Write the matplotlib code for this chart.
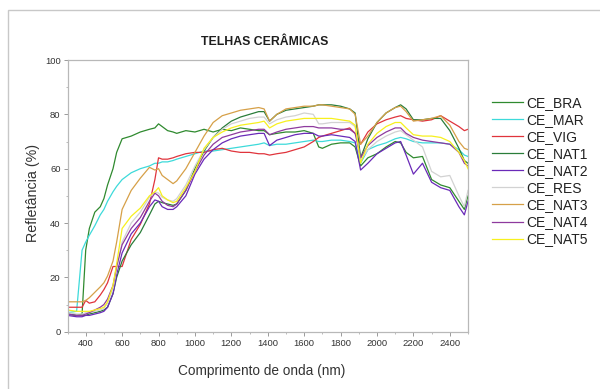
import matplotlib
matplotlib.use("Agg")
import matplotlib.pyplot as plt
from matplotlib import font_manager
from matplotlib.patches import Rectangle
from matplotlib.ticker import MultipleLocator

# Wavelength grid (nm) shared by all spectra
wavelength = [300, 350, 380, 400, 420, 450, 480, 500, 520, 550, 570, 600, 650, 700,
              750, 780, 800, 820, 850, 880, 900, 950, 1000, 1050, 1100, 1150, 1200,
              1250, 1300, 1350, 1380, 1410, 1450, 1500, 1550, 1600, 1650, 1680, 1700,
              1750, 1800, 1850, 1880, 1910, 1950, 2000, 2050, 2100, 2130, 2160, 2200,
              2250, 2300, 2350, 2400, 2450, 2480, 2500]

# Reflectance (%) of each ceramic tile sample
ce_bra = [6.5, 6, 6.5, 30, 38, 44, 46, 49, 54, 60, 66, 71, 72, 73.5,
          74.5, 75, 76.5, 75.5, 74, 73.5, 73, 74, 73.5, 74.5, 73.5, 74.5, 74,
          75, 74.5, 74, 74, 72.5, 73, 73.5, 73.5, 74, 73, 68, 67.5,
          69, 69.5, 69.5, 68, 61, 64, 65.5, 68, 70, 69.5, 66, 64,
          64.5, 56, 54, 53, 48, 45, 50]
ce_mar = [7, 7.5, 30, 33, 35.5, 39, 43, 45, 48, 51.5, 53.5, 56, 58.5, 60,
          61, 62, 62, 62.5, 62.5, 63, 63.5, 64.5, 65.5, 66.5, 66.5, 67, 67.5,
          68, 68.5, 69, 69.5, 68.5, 69, 69, 69.5, 70, 70.5, 70, 70,
          70.5, 70.5, 70, 69.5, 62, 67, 68.5, 69.5, 71, 71.5, 71, 70,
          69.5, 69.5, 69.5, 69, 67, 65, 64.5]
ce_vig = [9, 9, 9, 11.5, 10.5, 11, 13.5, 15.5, 18, 24, 24, 24, 34, 39.5,
          47, 56, 64, 63.5, 63.5, 64, 64.5, 65.5, 66, 66, 67, 67.5, 66.5,
          66, 66, 65.5, 65.5, 65, 65.5, 66, 67, 68, 70, 71.5, 72,
          73, 74, 75, 73, 69, 73.5, 76.5, 78, 79, 79.5, 78.5, 78,
          77.5, 78, 79.5, 77.5, 75.5, 74, 74.5]
ce_nat1 = [6.5, 6, 6, 6, 6.5, 7, 7.5, 8, 9, 14, 20, 26, 32, 36.5,
           43, 47, 48, 47.5, 47, 46.5, 47, 52, 60, 66.5, 71.5, 75, 77.5,
           79, 80, 81, 81, 77.5, 80, 81.5, 82, 82.5, 83, 83.5, 83.5,
           83.5, 83, 82, 80.5, 64, 71, 77, 80.5, 82.5, 83.5, 82, 78,
           78, 78.5, 78.5, 74, 67.5, 63, 62]
ce_nat2 = [6, 5.5, 5.5, 6, 6, 6.5, 7, 7.5, 9, 14, 21, 29, 36, 40,
           46, 48.5, 48, 46, 45, 45, 46, 50, 58, 63.5, 67, 69.5, 71,
           72, 72.5, 73, 73, 68.5, 70.5, 71.5, 72.5, 73, 73, 72, 72,
           72.5, 72, 71.5, 70, 59.5, 62, 65.5, 67.5, 69.5, 70, 65, 58,
           62, 55, 53, 52, 46, 43, 48]
ce_res = [7, 6.5, 6.5, 7, 7, 7.5, 8, 8.5, 10.5, 16, 23, 33, 40, 44,
          49.5, 51.5, 51, 49.5, 48.5, 48, 49, 54, 61, 67, 71.5, 74.5, 76.5,
          77.5, 78.5, 79, 79, 76.5, 78, 79, 79.5, 80.5, 80, 76.5, 76.5,
          77, 77, 77, 75.5, 63, 67, 70, 72, 73.5, 74, 72.5, 70.5,
          68, 59, 57, 57.5, 50, 46, 52]
ce_nat3 = [11, 11, 11, 11.5, 12.5, 14.5, 16.5, 18, 20.5, 26, 33, 45, 52, 56.5,
           60.5, 59.5, 60, 57.5, 56, 54.5, 55.5, 60, 66, 72, 77, 79.5, 80.5,
           81.5, 82, 82.5, 82, 77.5, 80, 82, 82.5, 83, 83, 83.5, 83.5,
           83, 82.5, 82, 80, 69, 72, 77, 80.5, 82.5, 83, 81, 77.5,
           78, 78.5, 79.5, 76, 70, 67.5, 67]
ce_nat4 = [6.5, 6, 6, 6.5, 7, 8, 9, 10, 12, 17, 24, 32, 38, 42,
           48, 51, 50, 48, 46.5, 46, 47, 52, 59, 65, 69, 71.5, 72.5,
           73.5, 74, 74.5, 74.5, 72.5, 73.5, 74.5, 75, 75.5, 75.5, 75, 75,
           75, 74.5, 74.5, 73, 64, 68.5, 71.5, 73.5, 75, 75, 73, 71.5,
           70.5, 70, 69.5, 69, 66, 62, 61]
ce_nat5 = [8, 7.5, 7.5, 7.5, 7.5, 8, 8.5, 9, 11, 17, 25, 38, 42.5, 45.5,
           50, 51.5, 53, 50, 48.5, 47.5, 48, 53, 59, 67.5, 71.5, 73.5, 75,
           76, 76.5, 77, 77.5, 75, 76.5, 77.5, 78, 78.5, 78.5, 78.5, 78.5,
           78.5, 78, 77.5, 76, 62, 69, 73, 75.5, 77, 77, 75, 72.5,
           72, 72, 71.5, 70, 66, 63, 60]

series_names = ["CE_BRA", "CE_MAR", "CE_VIG", "CE_NAT1", "CE_NAT2",
                "CE_RES", "CE_NAT3", "CE_NAT4", "CE_NAT5"]
series_values = [ce_bra, ce_mar, ce_vig, ce_nat1, ce_nat2,
                 ce_res, ce_nat3, ce_nat4, ce_nat5]
series_colors = ["#2f8a2f", "#3ddada", "#e0343c", "#2a7d3a", "#6a2ab8",
                 "#d2d2d2", "#d6a048", "#8e3a9e", "#f7f01e"]

xticks = [400, 600, 800, 1000, 1200, 1400, 1600, 1800, 2000, 2200, 2400]
yticks = [0, 20, 40, 60, 80, 100]

installed = {f.name for f in font_manager.fontManager.ttflist}
base_font = "Liberation Sans" if "Liberation Sans" in installed else "DejaVu Sans"
narrow_font = "Liberation Sans Narrow" if "Liberation Sans Narrow" in installed else base_font
plt.rcParams["font.family"] = [base_font, "DejaVu Sans"]

W, H = 600, 389
fig = plt.figure(figsize=(W / 100, H / 100), dpi=100)
fig.patch.set_facecolor("white")

# light frame around the panel
fig.add_artist(Rectangle((8 / W, -0.1), 1.2, 1 - 10 / H + 0.1, transform=fig.transFigure,
                         fill=False, edgecolor="#c8c8c8", linewidth=1.0))

ax = fig.add_axes([67.5 / W, 1 - 331.7 / H, (468 - 67.5) / W, (331.7 - 60) / H])

lines = []
for name, vals, col in zip(series_names, series_values, series_colors):
    ln, = ax.plot(wavelength, vals, color=col, linewidth=0.9, label=name)
    lines.append(ln)

ax.set_xlim(300, 2500)
ax.set_ylim(0, 100)
ax.set_xticks(xticks)
ax.set_yticks(yticks)
ax.xaxis.set_minor_locator(MultipleLocator(100))
ax.yaxis.set_minor_locator(MultipleLocator(10))
ax.tick_params(which="major", direction="out", length=3, width=0.7, color="#9a9a9a",
               labelsize=6.8, labelcolor="#333333", pad=2)
ax.tick_params(which="minor", direction="out", length=1.5, width=0.6, color="#b0b0b0")
for sp in ax.spines.values():
    sp.set_color("#b8b8b8")
    sp.set_linewidth(0.9)

fig.text(265 / W, 1 - 42 / H, "TELHAS CERÂMICAS", ha="center", va="center",
         fontsize=9.5 if narrow_font != base_font else 8.8, fontweight="bold",
         family=[narrow_font, "DejaVu Sans"], color="#1e1e1e")
fig.text(262 / W, 1 - 371 / H, "Comprimento de onda (nm)", ha="center", va="center",
         fontsize=9.8, color="#333333")
fig.text(33 / W, 1 - 193 / H, "Refletância (%)", ha="center", va="center",
         rotation=90, fontsize=10.3, color="#333333")

fig.legend(handles=lines, loc="upper left", bbox_to_anchor=(492 / W, 1 - 96 / H),
           frameon=False, fontsize=10, handlelength=2.2, handletextpad=0.3,
           labelspacing=0.22, borderaxespad=0, borderpad=0, labelcolor="#222222")

fig.savefig("out.png", dpi=100, facecolor="white")
